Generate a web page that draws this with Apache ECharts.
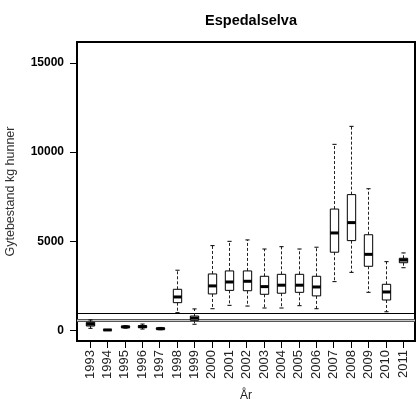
<!DOCTYPE html>
<html>
<head>
<meta charset="utf-8">
<script src="https://cdn.jsdelivr.net/npm/echarts@6/dist/echarts.min.js"></script>
<style>
html,body{margin:0;padding:0;background:#fff;}
#chart{width:416px;height:399px;}
</style>
</head>
<body>
<div id="chart"></div>
<script>
var years = ['1993','1994','1995','1996','1997','1998','1999','2000','2001','2002','2003','2004','2005','2006','2007','2008','2009','2010','2011'];
var whiskerLow = [120, 10, 130, 80, 40, 1000, 350, 1220, 1410, 1370, 1260, 1260, 1390, 1220, 2740, 3260, 2140, 1050, 3520];
var q1 =        [250, 20, 170, 160, 70, 1560, 570, 2050, 2250, 2230, 2030, 2090, 2140, 1940, 4390, 5040, 3600, 1710, 3800];
var median =    [360, 30, 200, 215, 100, 1880, 690, 2500, 2720, 2760, 2460, 2540, 2540, 2440, 5470, 6050, 4270, 2160, 3950];
var q3 =        [460, 40, 240, 270, 140, 2310, 810, 3170, 3340, 3340, 3040, 3150, 3150, 3040, 6810, 7620, 5370, 2590, 4050];
var whiskerHigh = [590, 50, 270, 360, 170, 3380, 1210, 4760, 5000, 5080, 4570, 4700, 4570, 4670, 10440, 11450, 7950, 3860, 4350];
var yTicks = [0, 5000, 10000, 15000];
var refLine = 980;
var bandLow = 535, bandHigh = 650;

var data = years.map(function (y, i) {
  return [i, whiskerLow[i], q1[i], median[i], q3[i], whiskerHigh[i]];
});
var xIdx = years.map(function (y, i) { return i; });

var chart = echarts.init(document.getElementById('chart'), null, {renderer: 'canvas'});

function renderBox(params, api) {
  var i = api.value(0);
  var lo = api.coord([i, api.value(1)]);
  var b1 = api.coord([i, api.value(2)]);
  var md = api.coord([i, api.value(3)]);
  var b3 = api.coord([i, api.value(4)]);
  var hi = api.coord([i, api.value(5)]);
  var w = api.size([0.48, 0])[0];
  var hw = w / 2, sw = w / 4;
  var x = Math.round(lo[0]) + 0.5;
  var dash = {stroke: '#222', lineWidth: 1, lineDash: [3, 2]};
  var solid = {stroke: '#000', lineWidth: 1};
  return {
    type: 'group',
    children: [
      {type: 'line', shape: {x1: x, y1: b3[1], x2: x, y2: hi[1]}, style: dash},
      {type: 'line', shape: {x1: x, y1: b1[1], x2: x, y2: lo[1]}, style: dash},
      {type: 'line', shape: {x1: x - sw, y1: hi[1], x2: x + sw, y2: hi[1]}, style: solid},
      {type: 'line', shape: {x1: x - sw, y1: lo[1], x2: x + sw, y2: lo[1]}, style: solid},
      {type: 'rect', shape: {x: x - hw, y: b3[1], width: w, height: b1[1] - b3[1]}, style: {fill: '#fff', stroke: '#000', lineWidth: 1}},
      {type: 'line', shape: {x1: x - hw, y1: md[1], x2: x + hw, y2: md[1]}, style: {stroke: '#000', lineWidth: 3}}
    ]
  };
}

chart.setOption({
  animation: false,
  backgroundColor: '#fff',
  title: {
    text: 'Espedalselva',
    left: 246, top: 8, textAlign: 'center',
    textStyle: {fontFamily: 'Liberation Sans', fontWeight: 'bold', fontSize: 14.5, color: '#000'}
  },
  grid: {left: 77, top: 42, right: 1, bottom: 58, show: true, borderColor: '#000', borderWidth: 2,
         backgroundColor: 'transparent', containLabel: false, outerBoundsMode: 'none'},
  xAxis: {
    type: 'value', min: -0.75, max: 18.68,
    axisLine: {show: false, onZero: false},
    splitLine: {show: false},
    axisTick: {show: true, inside: false, length: 7, customValues: xIdx, lineStyle: {color: '#000'}},
    axisLabel: {
      customValues: xIdx, rotate: 90, margin: 9,
      fontFamily: 'Liberation Sans', fontSize: 13, color: '#222',
      formatter: function (v) { return years[Math.round(v)]; }
    },
    name: 'År', nameLocation: 'middle', nameGap: 49,
    nameTextStyle: {fontFamily: 'Liberation Sans', fontSize: 12, color: '#222'}
  },
  yAxis: {
    type: 'value', min: -590, max: 16180,
    axisLine: {show: false, onZero: false},
    splitLine: {show: false},
    axisTick: {show: true, inside: false, length: 7, customValues: yTicks, lineStyle: {color: '#000'}},
    axisLabel: {
      customValues: yTicks, margin: 13,
      fontFamily: 'Liberation Sans', fontWeight: 'bold', fontSize: 12, color: '#000',
      formatter: function (v) { return String(v); }
    },
    name: 'Gytebestand kg hunner', nameLocation: 'middle', nameGap: 60,
    nameTextStyle: {fontFamily: 'Liberation Sans', fontSize: 12.5, color: '#333'}
  },
  series: [
    {
      type: 'line', data: [], silent: true,
      markArea: {
        silent: true,
        itemStyle: {color: '#c8c8c8'},
        data: [[{yAxis: bandLow}, {yAxis: bandHigh}]]
      },
      markLine: {
        silent: true, symbol: 'none', label: {show: false},
        data: [
          {yAxis: refLine, lineStyle: {color: '#000', width: 1.2, type: 'solid'}},
          {yAxis: bandLow, lineStyle: {color: '#555', width: 1, type: 'solid'}},
          {yAxis: bandHigh, lineStyle: {color: '#555', width: 1, type: 'solid'}}
        ]
      }
    },
    {
      type: 'custom',
      renderItem: renderBox,
      data: data,
      encode: {x: 0, y: [1, 2, 3, 4, 5]},
      z: 5
    }
  ]
});
</script>
</body>
</html>
